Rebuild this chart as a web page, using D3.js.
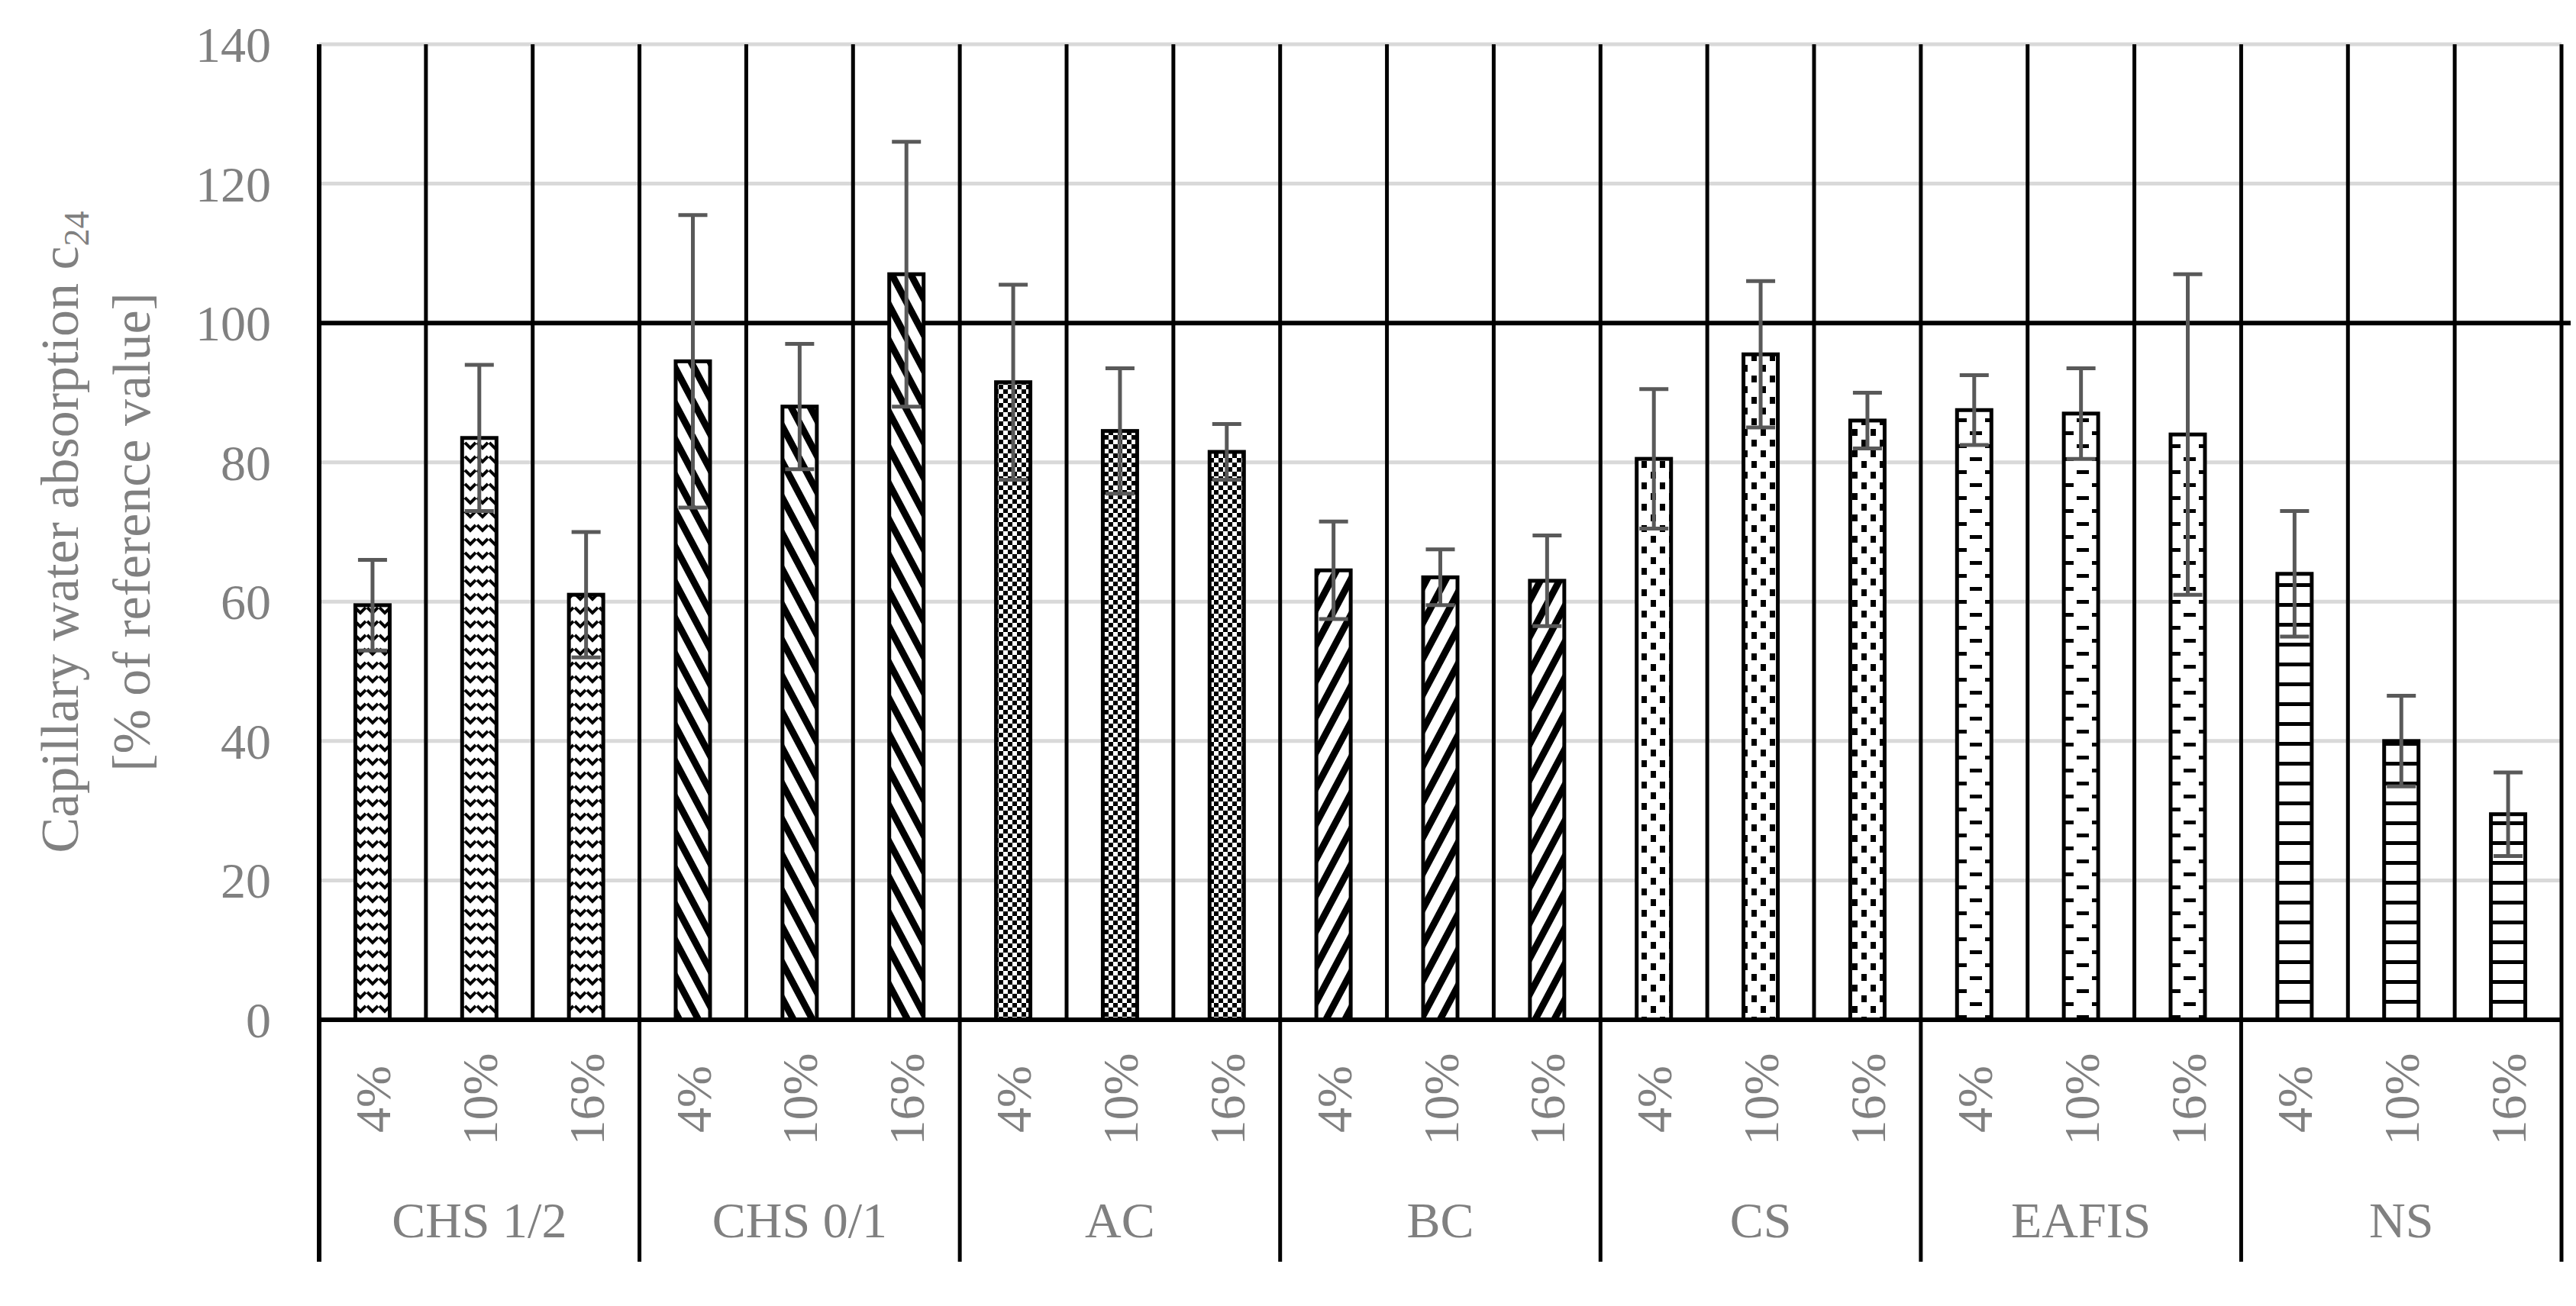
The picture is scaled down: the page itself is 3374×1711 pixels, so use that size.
<!DOCTYPE html>
<html>
<head>
<meta charset="utf-8">
<script src="https://cdn.jsdelivr.net/npm/d3@7"></script>
<style>
  body { margin: 0; background: #fff; }
  text { font-family: "Liberation Serif", "DejaVu Serif", serif; fill: #808080; }
</style>
</head>
<body>
<div id="chart"></div>
<script>
// data
const groups = ["CHS 1/2", "CHS 0/1", "AC", "BC", "CS", "EAFIS", "NS"];
const levels = ["4%", "10%", "16%"];
const values = [
    [59.5, 83.5, 61],
    [94.5, 88, 107],
    [91.5, 84.5, 81.5],
    [64.5, 63.5, 63],
    [80.5, 95.5, 86],
    [87.5, 87, 84],
    [64, 40, 29.5]
];
const errors = [
    [6.5, 10.5, 9],
    [21, 9, 19],
    [14, 9, 4],
    [7, 4, 6.5],
    [10, 10.5, 4],
    [5, 6.5, 23],
    [9, 6.5, 6]
];
const yTicks = [0, 20, 40, 60, 80, 100, 120, 140];

const W = 3374, H = 1711;
const leftX = 418, rightX = 3355, topY = 58, zeroY = 1336, bottomY = 1653;

const svg = d3.select("#chart").append("svg")
    .attr("width", W).attr("height", H);

const defs = svg.append("defs");
function pat(id, w, h, draw, transform) {
    let p = defs.append("pattern").attr("id", id)
        .attr("patternUnits", "userSpaceOnUse")
        .attr("width", w).attr("height", h);
    if (transform) p.attr("patternTransform", transform);
    p.append("rect").attr("width", w).attr("height", h).attr("fill", "#fff");
    draw(p);
}
// zigzag
pat("p0", 16, 18, p => p.append("path").attr("d", "M1,4 l7,7 l7,-7").attr("stroke", "#000").attr("stroke-width", 4).attr("fill", "none"));
// wide downward diagonal
pat("p1", 22, 22, p => p.append("rect").attr("width", 9).attr("height", 22).attr("fill", "#000"), "rotate(-28)");
// small checkerboard
pat("p2", 12, 12, p => { p.append("rect").attr("width", 6).attr("height", 6).attr("fill", "#000"); p.append("rect").attr("x", 6).attr("y", 6).attr("width", 6).attr("height", 6).attr("fill", "#000"); });
// wide upward diagonal
pat("p3", 22, 22, p => p.append("rect").attr("width", 9).attr("height", 22).attr("fill", "#000"), "rotate(28)");
// large confetti
pat("p4", 24, 28, p => { p.append("rect").attr("x", 2).attr("y", 2).attr("width", 7).attr("height", 9).attr("fill", "#000"); p.append("rect").attr("x", 14).attr("y", 16).attr("width", 7).attr("height", 9).attr("fill", "#000"); });
// dashed horizontal
pat("p5", 40, 34, p => { p.append("rect").attr("x", 0).attr("y", 4).attr("width", 16).attr("height", 5).attr("fill", "#000"); p.append("rect").attr("x", 20).attr("y", 21).attr("width", 16).attr("height", 5).attr("fill", "#000"); });
// horizontal lines
pat("p6", 40, 26, p => p.append("rect").attr("y", 10).attr("width", 40).attr("height", 5).attr("fill", "#000"));

const y = d3.scaleLinear().domain([0, 140]).range([zeroY, topY]);
const xg = d3.scaleBand().domain(groups).range([leftX, rightX]);
const xl = d3.scaleBand().domain(levels).range([0, xg.bandwidth()]);
const barW = 45;

// horizontal gridlines
svg.append("g").selectAll("line").data(yTicks.filter(t => t > 0)).join("line")
    .attr("x1", leftX).attr("x2", rightX)
    .attr("y1", d => y(d)).attr("y2", d => y(d))
    .attr("stroke", "#d9d9d9").attr("stroke-width", 5);

// vertical lines at every slot
const slots = [];
groups.forEach(g => levels.forEach(l => slots.push(xg(g) + xl(l))));
slots.push(rightX);
svg.append("g").selectAll("line").data(slots).join("line")
    .attr("x1", d => d).attr("x2", d => d)
    .attr("y1", topY).attr("y2", (d, i) => i % 3 === 0 ? bottomY : zeroY)
    .attr("stroke", "#000").attr("stroke-width", 5);

// reference line at 100
svg.append("line").attr("x1", leftX).attr("x2", rightX + 12)
    .attr("y1", y(100)).attr("y2", y(100))
    .attr("stroke", "#000").attr("stroke-width", 6);

// bars
const bars = svg.append("g");
groups.forEach((g, gi) => {
    levels.forEach((l, li) => {
        const cx = xg(g) + xl(l) + xl.bandwidth() / 2;
        const v = values[gi][li], e = errors[gi][li];
        bars.append("rect")
            .attr("x", cx - barW / 2).attr("y", y(v))
            .attr("width", barW).attr("height", zeroY - y(v))
            .attr("fill", `url(#p${gi})`)
            .attr("stroke", "#000").attr("stroke-width", 5);
        const eg = bars.append("g").attr("stroke", "#595959").attr("stroke-width", 5);
        eg.append("line").attr("x1", cx).attr("x2", cx).attr("y1", y(v + e)).attr("y2", y(v - e));
        [v + e, v - e].forEach(t => eg.append("line")
            .attr("x1", cx - 19).attr("x2", cx + 19).attr("y1", y(t)).attr("y2", y(t)));
    });
});

// axis lines
svg.append("line").attr("x1", leftX).attr("x2", rightX)
    .attr("y1", zeroY).attr("y2", zeroY)
    .attr("stroke", "#000").attr("stroke-width", 6);
svg.append("line").attr("x1", leftX).attr("x2", leftX)
    .attr("y1", topY).attr("y2", bottomY)
    .attr("stroke", "#000").attr("stroke-width", 6);

// y tick labels
svg.append("g").selectAll("text").data(yTicks).join("text")
    .attr("x", 355).attr("y", d => y(d) + 23)
    .attr("text-anchor", "end").attr("font-size", 66)
    .text(d => d);

// level labels
groups.forEach(g => levels.forEach(l => {
    const cx = xg(g) + xl(l) + xl.bandwidth() / 2;
    svg.append("text")
        .attr("transform", `translate(${cx + 23},1440) rotate(-90)`)
        .attr("text-anchor", "middle").attr("font-size", 66)
        .text(l);
}));

// group labels
svg.append("g").selectAll("text").data(groups).join("text")
    .attr("x", d => xg(d) + xg.bandwidth() / 2).attr("y", 1621)
    .attr("text-anchor", "middle").attr("font-size", 66)
    .text(d => d);

// y axis title
const title = svg.append("text")
    .attr("transform", `translate(0,${(topY + zeroY) / 2}) rotate(-90)`)
    .attr("text-anchor", "middle").attr("font-size", 70);
title.append("tspan").attr("x", 0).attr("y", 102).text("Capillary water absorption c");
title.append("tspan").attr("font-size", 46).attr("dy", 14).text("24");
title.append("tspan").attr("x", 0).attr("y", 196).text("[% of reference value]");
</script>
</body>
</html>
